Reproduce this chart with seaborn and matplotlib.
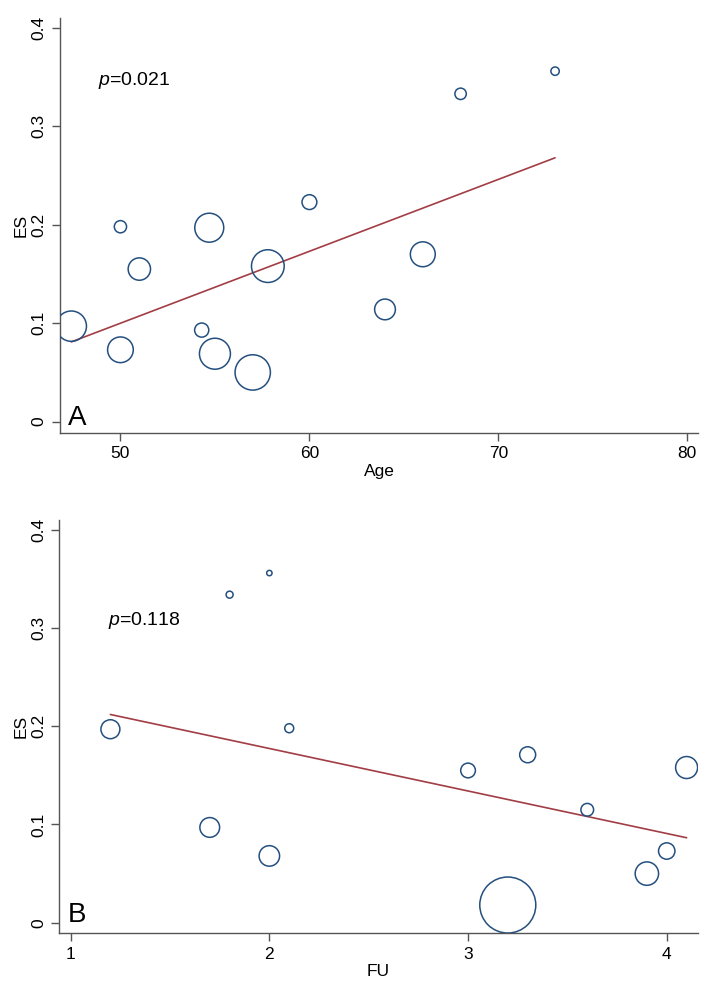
import numpy as np
import pandas as pd
import seaborn as sns
import matplotlib.pyplot as plt
import matplotlib.ticker as ticker

# Panel A: ES vs Age (bubble weight ~ marker area)
age = [47.4, 50.0, 51.0, 50.0, 54.3, 54.7, 55.0, 57.0, 57.8, 60.0, 64.0, 66.0, 68.0, 73.0]
es_a = [0.097, 0.198, 0.155, 0.073, 0.093, 0.197, 0.069, 0.050, 0.158, 0.223, 0.114, 0.170, 0.333, 0.356]
w_a = [92, 15, 50, 66, 20, 84, 96, 125, 107, 22, 43, 62, 13, 7]
fit_a_x = [47.4, 73.0]
fit_a_y = [0.081, 0.268]

# Panel B: ES vs FU
fu = [1.2, 1.8, 2.0, 1.7, 2.0, 2.1, 3.0, 3.3, 3.6, 4.1, 4.0, 3.9, 3.2]
es_b = [0.197, 0.334, 0.356, 0.097, 0.068, 0.198, 0.155, 0.171, 0.115, 0.158, 0.073, 0.050, 0.018]
w_b = [36, 4.9, 2.9, 39, 42, 8.1, 21.6, 25.6, 16.1, 48.4, 26.9, 54.8, 314]
fit_b_x = [1.2, 4.1]
fit_b_y = [0.212, 0.0865]

df_a = pd.DataFrame({'Age': age, 'ES': es_a, 'w': w_a})
df_b = pd.DataFrame({'FU': fu, 'ES': es_b, 'w': w_b})

sns.set_style('white')
plt.rcParams['font.family'] = ['Liberation Sans', 'DejaVu Sans']
plt.rcParams['text.color'] = 'black'
plt.rcParams['axes.labelcolor'] = 'black'
plt.rcParams['mathtext.fontset'] = 'custom'
plt.rcParams['mathtext.rm'] = 'Liberation Sans'
plt.rcParams['mathtext.it'] = 'Liberation Sans:italic'

navy = '#244f7e'
maroon = '#a23d45'
axcol = '#555555'
k = 5.18  # points^2 per weight unit

fig = plt.figure(figsize=(7.08, 9.89), dpi=100)
ax1 = fig.add_axes([0.0847, 0.5625, 0.9011, 0.4193])
ax2 = fig.add_axes([0.0838, 0.0563, 0.9017, 0.4179])


def bubble(ax, df, xcol, fx, fy):
    wmax = df['w'].max()
    sns.scatterplot(data=df, x=xcol, y='ES', size='w', sizes=(0, k * wmax),
                    size_norm=(0, wmax), facecolor='none', edgecolor=navy,
                    linewidth=1.1, legend=False, ax=ax, zorder=3)
    sns.lineplot(x=fx, y=fy, color=maroon, linewidth=1.2, ax=ax, zorder=2)
    for s in ['top', 'right']:
        ax.spines[s].set_visible(False)
    for s in ['left', 'bottom']:
        ax.spines[s].set_color(axcol)
        ax.spines[s].set_linewidth(1.0)
    ax.yaxis.set_major_locator(ticker.MultipleLocator(0.1))
    ax.yaxis.set_major_formatter(ticker.FuncFormatter(lambda v, p: '0' if abs(v) < 1e-9 else f'{v:.1f}'))
    ax.tick_params(axis='both', direction='out', length=6, width=1.0, color=axcol,
                   labelsize=12.5, labelcolor='black', left=True, bottom=True)
    ax.set_ylabel('ES', fontsize=12.5, labelpad=2)
    ax.set_xlabel(xcol, fontsize=12.5, labelpad=2)
    ax.grid(False)


bubble(ax1, df_a, 'Age', fit_a_x, fit_a_y)
ax1.set_xlim(46.8, 80.56)
ax1.set_ylim(-0.0112, 0.41)
ax1.xaxis.set_major_locator(ticker.FixedLocator([50, 60, 70, 80]))
ax1.text(0.0596, 0.838, '$p$=0.021', transform=ax1.transAxes, fontsize=14, va='baseline')
ax1.text(0.0125, 0.0186, 'A', transform=ax1.transAxes, fontsize=20, va='baseline')

bubble(ax2, df_b, 'FU', fit_b_x, fit_b_y)
ax2.set_xlim(0.943, 4.156)
ax2.set_ylim(-0.0108, 0.41)
ax2.xaxis.set_major_locator(ticker.FixedLocator([1, 2, 3, 4]))
ax2.text(0.076, 0.746, '$p$=0.118', transform=ax2.transAxes, fontsize=14, va='baseline')
ax2.text(0.0125, 0.028, 'B', transform=ax2.transAxes, fontsize=20, va='baseline')

for ax in [ax1, ax2]:
    for lab in ax.get_yticklabels():
        lab.set_rotation(90)
        lab.set_va('center')

fig.savefig('out.png', dpi=100)
